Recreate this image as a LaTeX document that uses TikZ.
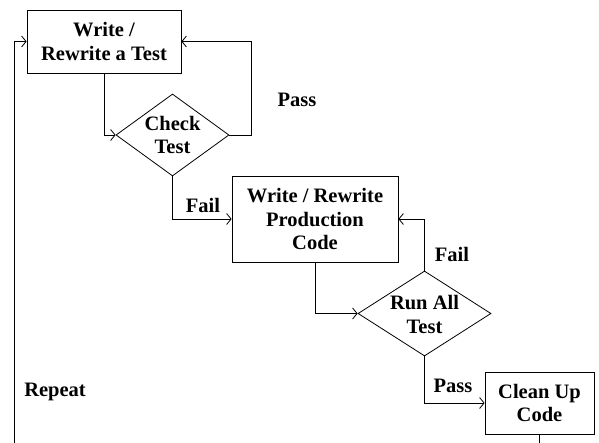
\documentclass[tikz,border=0pt]{standalone}
\usepackage{fontspec}
\setmainfont{Liberation Serif}
\usetikzlibrary{shapes.geometric,arrows.meta}
\begin{document}
\begin{tikzpicture}[x=1pt,y=-1pt,
  txt/.style={font=\fontsize{20.5}{23.8}\selectfont\bfseries, align=center, inner sep=0pt},
  stepbox/.style={draw, line width=0.8pt, inner sep=0pt},
  decision/.style={diamond, draw, line width=0.8pt, inner sep=0pt},
  flow/.style={line width=0.8pt, -{Straight Barb[length=4.5pt,width=11pt]}},
  plain/.style={line width=0.8pt}]
\useasboundingbox (0,0) rectangle (599,443);

% process boxes
\node[stepbox, minimum width=154pt, minimum height=63pt] (wt) at (104,41.5) {};
\node[txt] at (wt) {Write /\\Rewrite a Test};
\node[stepbox, minimum width=166pt, minimum height=86pt] (wp) at (315,219) {};
\node[txt] at (wp) {Write / Rewrite\\Production\\Code};
\node[stepbox, minimum width=109pt, minimum height=62pt] (cu) at (539.5,403) {};
\node[txt] at (cu) {Clean Up\\Code};

% decisions
\node[decision, minimum width=113pt, minimum height=82pt] (ct) at (172.5,135) {};
\node[txt] at (ct) {Check\\Test};
\node[decision, minimum width=133pt, minimum height=85pt] (ra) at (424.5,313.5) {};
\node[txt] at ([yshift=-1pt]ra) {Run All\\Test};

% loop ends leaving the page
\coordinate (rl) at (14,443);
\coordinate (cb) at (539.5,443);

% connectors
\draw[flow] (wt.south) |- (ct.west);
\draw[flow] (ct.east) -| (251,41.5) -- (wt.east);
\draw[flow] (ct.south) |- (wp.west);
\draw[flow] (wp.south) |- (ra.west);
\draw[flow] (ra.north) |- (wp.east);
\draw[flow] (ra.south) |- (cu.west);
\draw[plain] (cu.south) -- (cb);
\draw[flow] (rl) |- (wt.west);

% labels
\node[txt] (lpass1) at (297,100) {Pass};
\node[txt] (lfail1) at (203,205) {Fail};
\node[txt] (lfail2) at (452,254) {Fail};
\node[txt] (lpass2) at (453,386) {Pass};
\node[txt] (lrep) at (55,392) {Repeat};
\end{tikzpicture}
\end{document}
